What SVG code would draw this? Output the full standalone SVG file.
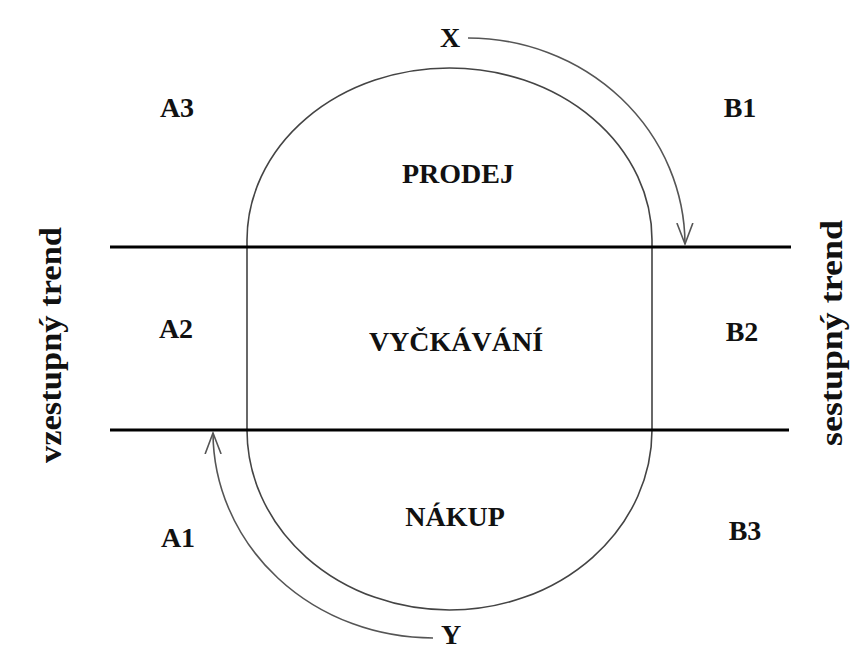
<svg xmlns="http://www.w3.org/2000/svg" width="850" height="650" viewBox="0 0 850 650">
  <style>
    .lbl { font-family: "Liberation Serif", "Times New Roman", serif; font-weight: bold; font-size: 28px; fill: #111; text-anchor: middle; }
    .vlbl { font-family: "Liberation Serif", "Times New Roman", serif; font-weight: bold; font-size: 32px; fill: #111; text-anchor: middle; }
    .shape { fill: none; stroke: #444; stroke-width: 1.6; }
    .hline { stroke: #000; stroke-width: 3; }
    .arrow { fill: none; stroke: #555; stroke-width: 1.6; marker-end: url(#arr); }
  </style>
  <defs>
    <marker id="arr" markerUnits="userSpaceOnUse" markerWidth="30" markerHeight="20" refX="21" refY="8" orient="auto" viewBox="0 0 30 16">
      <path d="M0,0 L21,8 L0,16" fill="none" stroke="#555" stroke-width="1.6"/>
    </marker>
  </defs>
  <rect width="850" height="650" fill="#fff"/>

  <g id="cycle">
    <path class="shape" d="M247,430 L247,240 A202.5,172 0 0 1 652,240 L652,430 A202.5,180 0 0 1 247,430 Z"/>
  </g>

  <g id="bands">
    <line class="hline" x1="110" y1="247" x2="791" y2="247"/>
    <line class="hline" x1="110" y1="430" x2="789" y2="430"/>
  </g>

  <g id="connectors">
    <path class="arrow" d="M468,38 A217,207 0 0 1 685,244"/>
    <path class="arrow" d="M433,638 A220,206 0 0 1 213,433"/>
  </g>

  <g id="node-x"><text class="lbl" x="450" y="47">X</text></g>
  <g id="node-y"><text class="lbl" x="451" y="644">Y</text></g>
  <g id="node-prodej"><text class="lbl" x="458" y="183">PRODEJ</text></g>
  <g id="node-vyckavani"><text class="lbl" x="456" y="351">VYČKÁVÁNÍ</text></g>
  <g id="node-nakup"><text class="lbl" x="455" y="526">NÁKUP</text></g>
  <g id="node-a3"><text class="lbl" x="177" y="117">A3</text></g>
  <g id="node-a2"><text class="lbl" x="176" y="338">A2</text></g>
  <g id="node-a1"><text class="lbl" x="178" y="547">A1</text></g>
  <g id="node-b1"><text class="lbl" x="740" y="117">B1</text></g>
  <g id="node-b2"><text class="lbl" x="742" y="341">B2</text></g>
  <g id="node-b3"><text class="lbl" x="745" y="540">B3</text></g>
  <g id="node-left"><text class="vlbl" transform="translate(61,345) rotate(-90)" x="0" y="0" textLength="236" lengthAdjust="spacingAndGlyphs">vzestupný trend</text></g>
  <g id="node-right"><text class="vlbl" transform="translate(842,333) rotate(-90)" x="0" y="0" textLength="226" lengthAdjust="spacingAndGlyphs">sestupný trend</text></g>
</svg>
